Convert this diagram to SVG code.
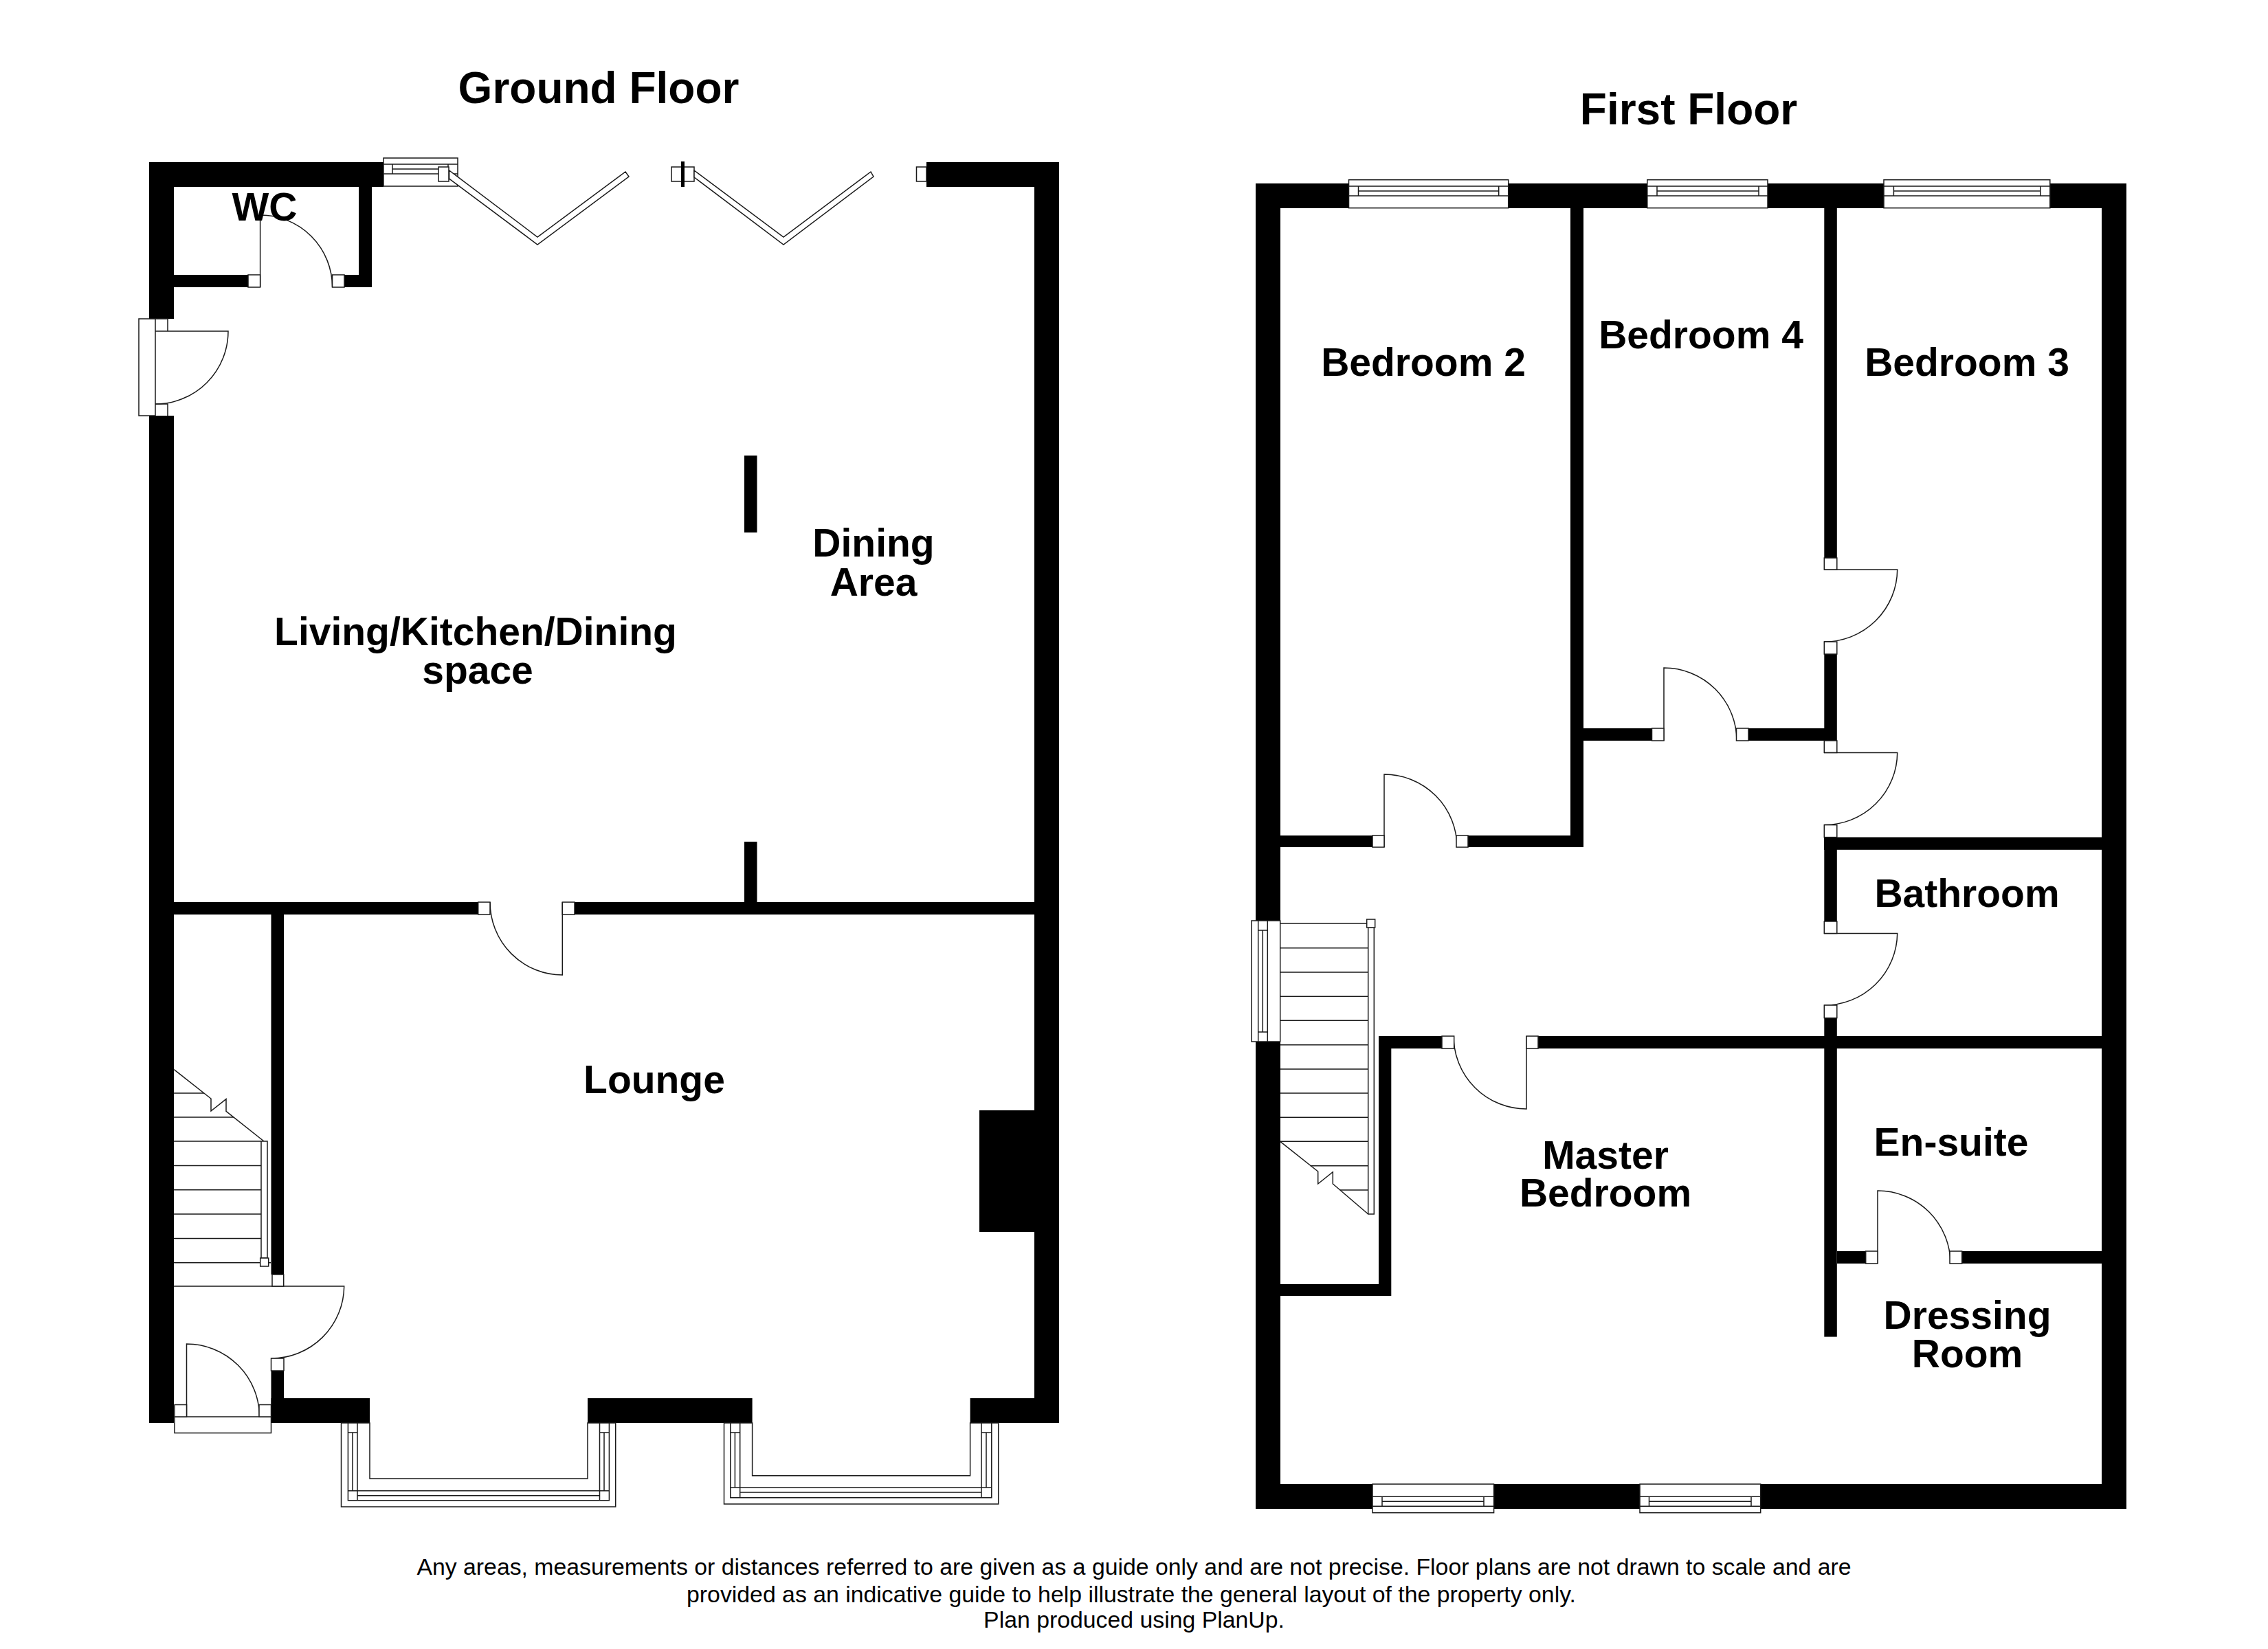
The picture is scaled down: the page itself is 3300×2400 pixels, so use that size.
<svg xmlns="http://www.w3.org/2000/svg" width="3300" height="2400" viewBox="0 0 3300 2400">
<style>
.w{fill:#000}
.l{fill:none;stroke:#1a1a1a;stroke-width:1.5}
.f{fill:#fff;stroke:#1a1a1a;stroke-width:1.5}
.n{fill:#fff}
text{font-family:"Liberation Sans",Arial,sans-serif;fill:#000;text-anchor:middle}
.t{font-weight:700;font-size:64px}
.r{font-weight:700;font-size:57px}
.c{font-size:33.8px}
</style>
<rect width="3300" height="2400" fill="#fff"/>
<g id="ground-floor">
<g id="ground-walls" class="w">
<rect x="217" y="236" width="341" height="36"/>
<rect x="217" y="236" width="36" height="228"/>
<rect x="217" y="605" width="36" height="1466"/>
<rect x="522" y="236" width="19" height="182"/>
<rect x="253" y="400" width="108" height="18"/>
<rect x="501" y="400" width="40" height="18"/>
<rect x="1348" y="236" width="193" height="36"/>
<rect x="1505" y="236" width="36" height="1835"/>
<rect x="253" y="1313" width="444" height="18"/>
<rect x="836" y="1313" width="669" height="18"/>
<rect x="1083" y="663" width="18.500" height="112"/>
<rect x="1083" y="1225" width="18.500" height="88"/>
<rect x="394.500" y="1313" width="18.500" height="542"/>
<rect x="394.500" y="1995" width="18.500" height="76"/>
<rect x="394.500" y="2035" width="143.500" height="36"/>
<rect x="855" y="2035" width="239.600" height="36"/>
<rect x="1411.600" y="2035" width="129.400" height="36"/>
<rect x="1425" y="1616" width="80" height="177"/>
</g>
<g id="ground-bifold">
<rect class="f" x="558" y="230" width="108" height="41"/>
<path class="l" d="M558 239H666M558 253H666M571 239V253M571 246H652M652 239V253"/>
<rect class="f" x="638" y="243" width="15" height="21"/>
<path class="f" d="M653.600 248L782 345L910 250L915 257L782 356L653.600 260Z"/>
<rect class="f" x="977" y="243" width="33" height="21"/>
<rect class="w" x="991" y="235" width="5" height="37"/>
<path class="f" d="M1010 248L1140 345L1267 250L1271 257L1140 356L1010 258Z"/>
<rect class="f" x="1333.500" y="243" width="14.500" height="21"/>
</g>
<g id="ground-doors">
<path class="l" d="M378.600 418V313A105 105 0 0 1 483.600 418"/>
<rect class="f" x="361" y="400" width="17.600" height="18"/>
<rect class="f" x="483.500" y="400" width="17.500" height="18"/>
<rect class="n" x="217" y="464" width="36" height="141"/>
<rect class="f" x="202" y="464" width="24" height="141"/>
<path class="l" d="M226 482H332A106 106 0 0 1 226 588"/>
<path class="l" d="M226 464H244V482M226 588H244V605"/>
<path class="l" d="M818.300 1313V1419A105.500 106 0 0 1 713 1313"/>
<rect class="f" x="695.700" y="1313" width="17.300" height="18"/>
<rect class="f" x="818.300" y="1313" width="17.700" height="18"/>
<path class="l" d="M253 1872H500.700A106 106 0 0 1 394.500 1977"/>
<rect class="f" x="396" y="1855" width="16.700" height="17"/>
<rect class="f" x="394.500" y="1977" width="18.500" height="18"/>
<rect class="f" x="254" y="2062" width="140.500" height="23.600"/>
<path class="l" d="M271.500 2062V1956A106 106 0 0 1 377.500 2062"/>
<rect class="f" x="254" y="2044.500" width="17.500" height="17.500"/>
<rect class="f" x="377" y="2044.500" width="17.500" height="17.500"/>
</g>
<g id="ground-stairs">
<path class="l" d="M253 1591H297M253 1626H340M253 1661H380M253 1696.500H380M253 1731.700H380M253 1767H380M253 1802.500H380M253 1837.700H394"/>
<path class="l" d="M253 1556.500L307 1599V1617L329 1599.600V1617.400L384 1661"/>
<rect class="f" x="380" y="1661" width="9" height="170"/>
<rect class="f" x="378.700" y="1831" width="12" height="12"/>
</g>
<g id="ground-bays">
<path class="f" d="M496.500 2071V2193H895.700V2071H855V2152H538V2071Z"/>
<path class="l" d="M506.400 2071V2183.700H886.400V2071M520 2071V2183.700M872.500 2071V2183.700M513 2085V2169.700M879 2085V2169.700M506.400 2085H520M872.500 2085H886.400M506.400 2169.700H886.400M520 2176.700H872.500"/>
<path class="f" d="M1053.500 2071V2189H1452.700V2071H1411.600V2147.700H1094.600V2071Z"/>
<path class="l" d="M1062.800 2071V2179.700H1442.800V2071M1076.700 2071V2179.700M1428 2071V2179.700M1069.400 2085V2165M1435 2085V2165M1062.800 2085H1076.700M1428 2085H1442.800M1062.800 2165H1442.800M1076.700 2172H1428"/>
</g>
<g id="ground-labels">
<text class="t" x="871" y="150">Ground Floor</text>
<text class="r" x="385" y="321">WC</text>
<text class="r" x="692" y="939">Living/Kitchen/Dining</text>
<text class="r" x="695" y="995">space</text>
<text class="r" x="1271" y="810">Dining</text>
<text class="r" x="1271" y="867">Area</text>
<text class="r" x="952" y="1591">Lounge</text>
</g>
</g>
<g id="first-floor">
<g id="first-walls" class="w">
<rect x="1827" y="267" width="1267" height="36"/>
<rect x="1827" y="267" width="36" height="1073"/>
<rect x="1827" y="1516" width="36" height="680"/>
<rect x="3058" y="267" width="36" height="1929"/>
<rect x="1827" y="2160" width="1267" height="36"/>
<rect x="2285" y="303" width="19" height="930"/>
<rect x="2654.300" y="303" width="18.500" height="509"/>
<rect x="2654.300" y="952" width="18.500" height="126"/>
<rect x="2654.300" y="1218.500" width="18.500" height="122.500"/>
<rect x="2654.300" y="1481.600" width="18.500" height="464"/>
<rect x="1863" y="1216" width="134" height="17"/>
<rect x="2136" y="1216" width="168" height="17"/>
<rect x="2304" y="1060" width="99.500" height="18"/>
<rect x="2544" y="1060" width="128" height="18"/>
<rect x="2654" y="1218.500" width="404" height="18.300"/>
<rect x="2006" y="1508" width="92" height="18"/>
<rect x="2238" y="1508" width="820" height="18"/>
<rect x="2006" y="1508" width="18.300" height="378"/>
<rect x="1863" y="1869" width="161" height="17"/>
<rect x="2673" y="1821" width="41.700" height="18"/>
<rect x="2854.700" y="1821" width="203.300" height="18"/>
</g>
<g id="first-windows">
<rect class="f" x="1962.500" y="261.700" width="232.200" height="41"/>
<path class="l" d="M1962.500 271H2194.700M1976.500 278H2180.700M1962.500 285H2194.700M1976.500 271V285M2180.700 271V285"/>
<rect class="f" x="2396.800" y="261.700" width="175.200" height="41"/>
<path class="l" d="M2396.800 271H2572M2411 278H2559M2396.800 285H2572M2411 271V285M2559 271V285"/>
<rect class="f" x="2741" y="261.700" width="241.800" height="41"/>
<path class="l" d="M2741 271H2982.800M2755.400 278H2968.800M2741 285H2982.800M2755.400 271V285M2968.800 271V285"/>
<rect class="f" x="1997" y="2160" width="176.600" height="41.700"/>
<path class="l" d="M1997 2178.300H2173.600M2011 2185.300H2159M1997 2192.300H2173.600M2011 2178.300V2192.300M2159 2178.300V2192.300"/>
<rect class="f" x="2386" y="2160" width="175.700" height="41.700"/>
<path class="l" d="M2386 2178.300H2561.700M2399.500 2185.300H2548M2386 2192.300H2561.700M2399.500 2178.300V2192.300M2548 2178.300V2192.300"/>
<rect class="f" x="1821" y="1340" width="41.700" height="176"/>
<path class="l" d="M1830.700 1340V1516M1844.300 1340V1516M1837.300 1354V1502M1830.700 1354H1844.300M1830.700 1502H1844.300"/>
</g>
<g id="first-doors">
<path class="l" d="M2014 1233V1127A106 106 0 0 1 2120 1233"/>
<rect class="f" x="1997" y="1216" width="17" height="17"/>
<rect class="f" x="2119" y="1216" width="17" height="17"/>
<path class="l" d="M2421 1078V972A106 106 0 0 1 2527 1078"/>
<rect class="f" x="2403.500" y="1060" width="17.500" height="18"/>
<rect class="f" x="2526.500" y="1060" width="17.500" height="18"/>
<path class="l" d="M2654 829H2760.700A106 106 0 0 1 2654 934"/>
<rect class="f" x="2654.300" y="812" width="18.500" height="17"/>
<rect class="f" x="2654.300" y="934" width="18.500" height="18"/>
<path class="l" d="M2654 1095.400H2760.700A106 106 0 0 1 2654 1200.600"/>
<rect class="f" x="2654.300" y="1078" width="18.500" height="17.400"/>
<rect class="f" x="2654.300" y="1200.600" width="18.500" height="18"/>
<path class="l" d="M2654 1358.500H2760.700A106 106 0 0 1 2654 1463"/>
<rect class="f" x="2654.300" y="1341" width="18.500" height="17.500"/>
<rect class="f" x="2654.300" y="1463" width="18.500" height="18.600"/>
<path class="l" d="M2221 1508V1614A106 106 0 0 1 2115 1508"/>
<rect class="f" x="2098" y="1508" width="17.700" height="18"/>
<rect class="f" x="2221" y="1508" width="17" height="18"/>
<path class="l" d="M2732 1839V1733A106 106 0 0 1 2838 1839"/>
<rect class="f" x="2714.700" y="1821" width="17.300" height="18"/>
<rect class="f" x="2837" y="1821" width="17.700" height="18"/>
</g>
<g id="first-stairs">
<path class="l" d="M1862.700 1344H1990M1862.700 1379.700H1990.700M1862.700 1415H1990.700M1862.700 1450.300H1990.700M1862.700 1485.300H1990.700M1862.700 1520.700H1990.700M1862.700 1556H1990.700M1862.700 1591H1990.700M1862.700 1626.300H1990.700M1862.700 1661.300H1990.700M1906.700 1696.700H1990.700M1950 1732H1990.700"/>
<path class="l" d="M1862.700 1661.300L1917.700 1705V1723L1939.300 1705.700V1723L1990.700 1767"/>
<rect class="f" x="1990.700" y="1350" width="8.600" height="417"/>
<rect class="f" x="1988.700" y="1338" width="12" height="12"/>
</g>
<g id="first-labels">
<text class="t" x="2457" y="181">First Floor</text>
<text class="r" x="2071" y="547">Bedroom 2</text>
<text class="r" x="2475" y="507">Bedroom 4</text>
<text class="r" x="2862" y="547">Bedroom 3</text>
<text class="r" x="2862" y="1320">Bathroom</text>
<text class="r" x="2336" y="1701">Master</text>
<text class="r" x="2336" y="1756">Bedroom</text>
<text class="r" x="2839" y="1682">En-suite</text>
<text class="r" x="2862.500" y="1934">Dressing</text>
<text class="r" x="2862.500" y="1990">Room</text>
</g>
</g>
<g id="disclaimer">
<text class="c" x="1650" y="2292">Any areas, measurements or distances referred to are given as a guide only and are not precise. Floor plans are not drawn to scale and are</text>
<text class="c" x="1646" y="2332">provided as an indicative guide to help illustrate the general layout of the property only.</text>
<text class="c" x="1650" y="2369">Plan produced using PlanUp.</text>
</g>
</svg>
